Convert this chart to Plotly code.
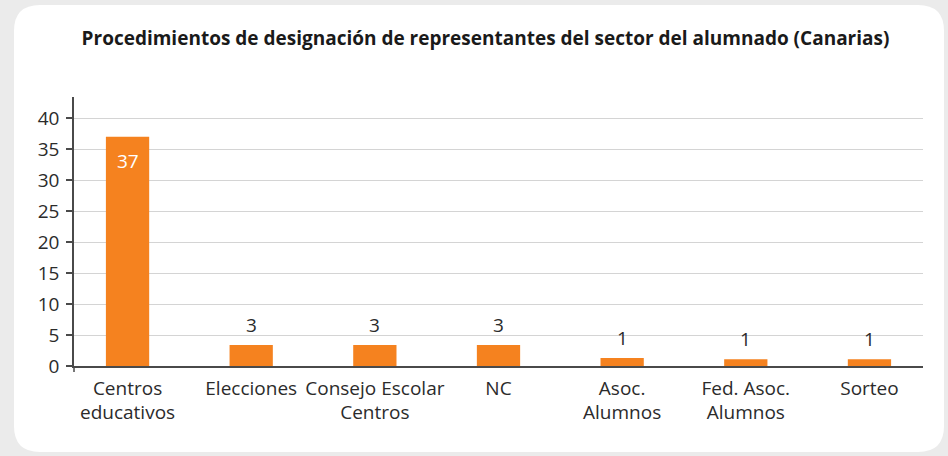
import plotly.graph_objects as go

categories = ["Centros<br>educativos", "Elecciones", "Consejo Escolar<br>Centros", "NC",
              "Asoc.<br>Alumnos", "Fed. Asoc.<br>Alumnos", "Sorteo"]
bar_heights = [37, 3.4, 3.4, 3.4, 1.3, 1.1, 1.1]
value_labels = ["37", "3", "3", "3", "1", "1", "1"]
y_ticks = [0, 5, 10, 15, 20, 25, 30, 35, 40]
title_text = "Procedimientos de designación de representantes del sector del alumnado (Canarias)"

W, H = 948, 456
L, R, T, B = 74, 25, 97, 90
pw, ph = W - L - R, H - T - B

def px(x):
    return (x - L) / pw

def py(y):
    return (H - B - y) / ph

orange = "#f5821f"
text_col = "#2b2b2b"
fs = 19

fig = go.Figure()
fig.add_trace(go.Bar(
    x=categories, y=bar_heights, width=0.35,
    marker=dict(color=orange, line=dict(width=0)),
    cliponaxis=False, hoverinfo="skip",
))

annotations = []
for cat, h, lab in zip(categories, bar_heights, value_labels):
    inside = h > 10
    annotations.append(dict(
        x=cat, y=h, xref="x", yref="y", text=lab, showarrow=False,
        yanchor="top" if inside else "bottom",
        yshift=-9 if inside else 5,
        font=dict(size=fs, color="white" if inside else text_col),
    ))

# rounded white panel
x0, y0, x1, y1, r = 14, 5, 944, 452, 26
path = (f"M {px(x0+r)},{py(y0)} L {px(x1-r)},{py(y0)} Q {px(x1)},{py(y0)} {px(x1)},{py(y0+r)} "
        f"L {px(x1)},{py(y1-r)} Q {px(x1)},{py(y1)} {px(x1-r)},{py(y1)} "
        f"L {px(x0+r)},{py(y1)} Q {px(x0)},{py(y1)} {px(x0)},{py(y1-r)} "
        f"L {px(x0)},{py(y0+r)} Q {px(x0)},{py(y0)} {px(x0+r)},{py(y0)} Z")
shapes = [
    dict(type="path", path=path, xref="paper", yref="paper", fillcolor="white",
         line=dict(width=0), layer="below"),
    dict(type="line", xref="paper", yref="paper", x0=0, x1=0, y0=0, y1=-6 / ph,
         line=dict(color="#4a4a4a", width=1.5)),
]

fig.update_layout(
    width=W, height=H,
    margin=dict(l=L, r=R, t=T, b=B),
    paper_bgcolor="#ebebeb",
    plot_bgcolor="rgba(0,0,0,0)",
    font=dict(family="Open Sans", size=fs, color=text_col),
    title=dict(text="<b>" + title_text + "</b>", x=px(485.5), xref="paper", xanchor="center",
               y=1 - 38 / H, yanchor="middle",
               font=dict(family="Open Sans", size=19, color="#1a1a1a")),
    showlegend=False,
    shapes=shapes,
    annotations=annotations,
    xaxis=dict(range=[-0.433, 6.433], showgrid=False, showline=True, linecolor="#4a4a4a",
               linewidth=1.5, ticks="", tickfont=dict(size=fs, color=text_col),
               ticklabelstandoff=4, fixedrange=True),
    yaxis=dict(range=[0, 43.4], tickvals=y_ticks, showgrid=True, gridcolor="#d4d4d4",
               gridwidth=1, showline=True, linecolor="#4a4a4a", linewidth=1.5,
               ticks="outside", ticklen=6, tickcolor="#4a4a4a", tickwidth=1.5,
               tickfont=dict(size=fs, color=text_col), ticklabelstandoff=3,
               zeroline=False, fixedrange=True),
)

fig.write_html("out.html", config={"displayModeBar": False},
               post_script="document.body.style.margin='0';document.body.style.padding='0';")
